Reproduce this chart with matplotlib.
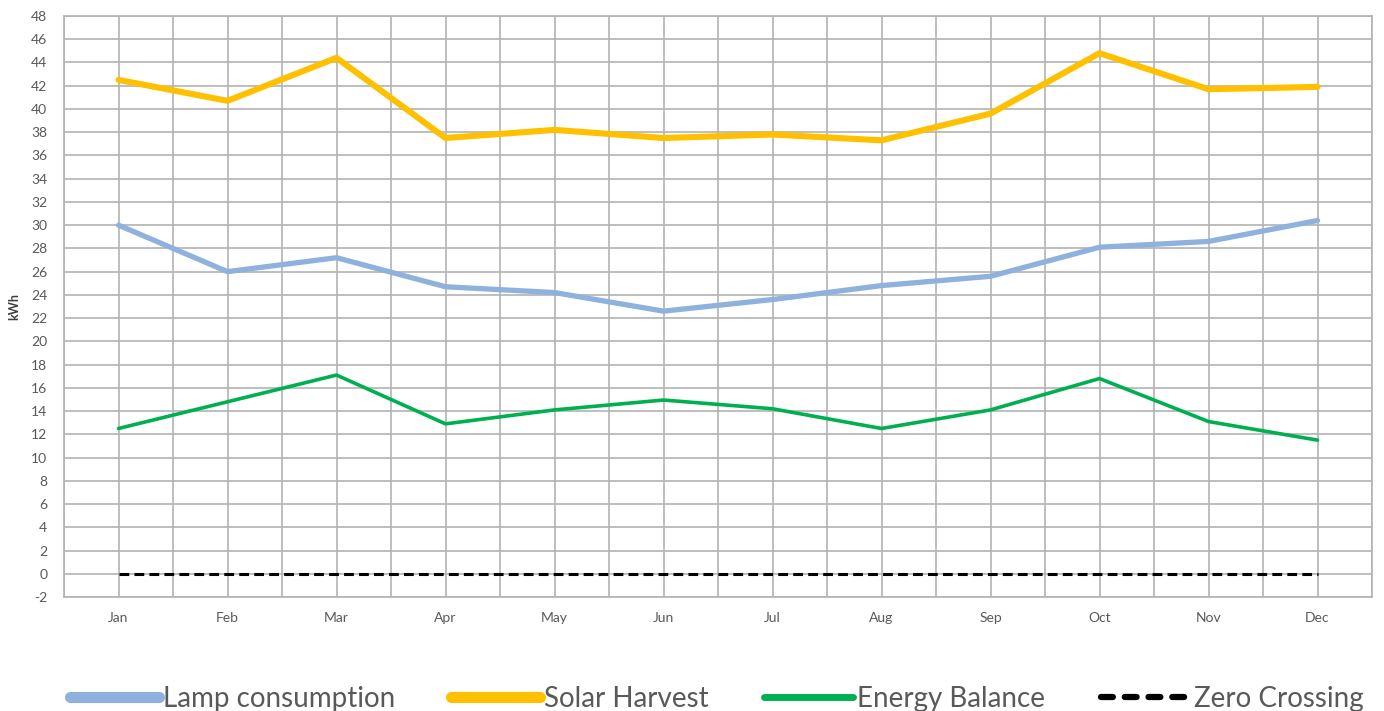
import matplotlib
matplotlib.use("Agg")
import matplotlib.pyplot as plt
import numpy as np

months = ["Jan", "Feb", "Mar", "Apr", "May", "Jun", "Jul", "Aug", "Sep", "Oct", "Nov", "Dec"]
lamp = [30.0, 26.0, 27.2, 24.7, 24.2, 22.6, 23.6, 24.8, 25.6, 28.1, 28.6, 30.4]
solar = [42.5, 40.7, 44.4, 37.5, 38.2, 37.5, 37.8, 37.3, 39.6, 44.8, 41.7, 41.9]
balance = [12.5, 14.8, 17.1, 12.9, 14.1, 14.95, 14.2, 12.5, 14.1, 16.8, 13.1, 11.5]
zero = [0] * 12
y_ticks = list(range(-2, 49, 2))

plt.rcParams['font.family'] = ['Lato', 'DejaVu Sans']
text_col = '#595959'
grid_col = '#b3b3b3'

fig = plt.figure(figsize=(13.84, 7.11), dpi=100)
ax = fig.add_axes([64/1384, (711-597)/711, (1372-64)/1384, (597-16)/711])
x = np.arange(len(months))

ax.plot(x, lamp, color='#8EB1DD', lw=3.8, solid_capstyle='round', label='Lamp consumption', zorder=3)
ax.plot(x, solar, color='#FFC000', lw=4.4, solid_capstyle='round', label='Solar Harvest', zorder=3)
ax.plot(x, balance, color='#00B050', lw=2.6, solid_capstyle='round', label='Energy Balance', zorder=3)
ax.plot(x, zero, color='black', lw=2.2, linestyle=(0, (3.2, 1.7)), dash_capstyle='butt', label='Zero Crossing', zorder=3)

ax.set_xlim(-0.5, len(months) - 0.5)
ax.set_ylim(-2, 48)
ax.set_yticks(y_ticks)
ax.set_yticklabels([str(v) for v in y_ticks])
ax.set_xticks(x)
ax.set_xticklabels(months)
ax.set_xticks(np.arange(-0.5, len(months), 1.0), minor=True)
ax.grid(True, which='major', color=grid_col, lw=1.2, zorder=0)
ax.grid(True, which='minor', axis='x', color=grid_col, lw=1.2, zorder=0)
ax.tick_params(axis='both', which='both', length=0)
ax.tick_params(axis='y', labelsize=10, labelcolor=text_col, pad=12)
ax.tick_params(axis='x', labelsize=10, labelcolor=text_col, pad=11)
for s in ax.spines.values():
    s.set_color(grid_col)
    s.set_linewidth(1.2)
ax.set_ylabel('kWh', fontsize=9, fontweight='bold', color='#404040', labelpad=8)

leg = fig.legend(loc='center', bbox_to_anchor=(0.518, 0.017), ncol=4, frameon=False,
                 fontsize=20, handlelength=3.2, handletextpad=0.15, columnspacing=2.0,
                 labelcolor=text_col)
hl = leg.get_lines()
hl[0].set_linewidth(8)
hl[1].set_linewidth(8)
hl[2].set_linewidth(5)
hl[3].set_linewidth(4.5)
hl[3].set_linestyle((0, (1.9, 1.9)))
hl[3].set_dash_capstyle('round')
for h in hl[:3]:
    h.set_solid_capstyle('round')

fig.savefig('out.png', dpi=100)
